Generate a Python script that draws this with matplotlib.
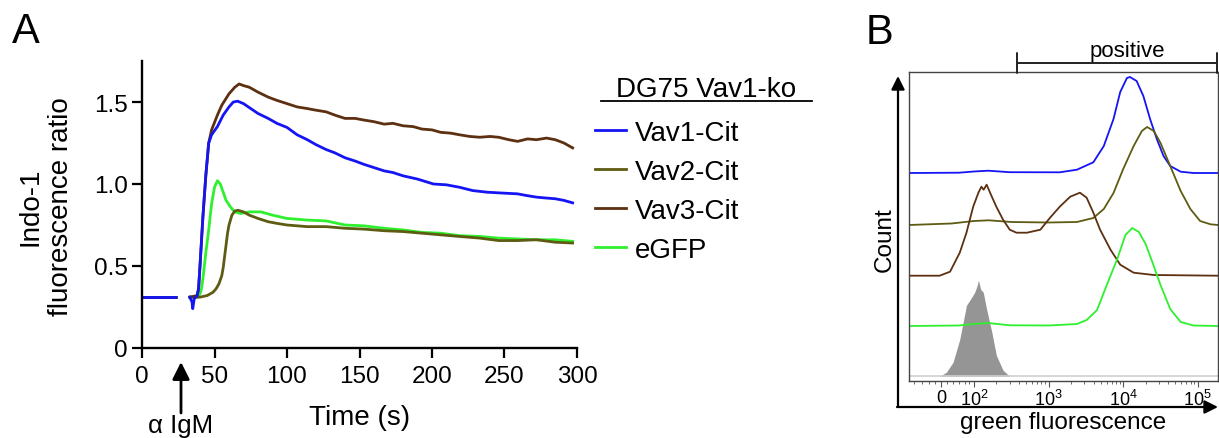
import numpy as np
import matplotlib
matplotlib.use("Agg")
import matplotlib.pyplot as plt
from matplotlib.ticker import FixedLocator, NullFormatter

plt.rcParams['font.family'] = ['Liberation Sans', 'DejaVu Sans']
plt.rcParams['mathtext.fontset'] = 'custom'
plt.rcParams['mathtext.rm'] = 'Liberation Sans'
plt.rcParams['mathtext.it'] = 'Liberation Sans'

# ---- panel A: Indo-1 ratio traces ----
t_pre = [0, 24]
v_pre = [0.31, 0.31]

t_vav1 = [33, 34.5, 35, 36, 38, 39, 40, 42, 44, 46, 48, 52, 56, 60, 63, 66, 70, 75, 80, 87,
          93, 100, 107, 114, 120, 127, 133, 140, 147, 153, 160, 167, 173, 180, 190, 201, 210, 219, 228, 238,
          248, 259, 265, 272, 278, 285, 291, 297]
v_vav1 = [0.31, 0.28, 0.24, 0.30, 0.32, 0.36, 0.50, 0.80, 1.05, 1.25, 1.30, 1.35, 1.42, 1.47, 1.50, 1.505, 1.49, 1.46, 1.43, 1.40,
          1.37, 1.345, 1.30, 1.27, 1.24, 1.21, 1.19, 1.16, 1.14, 1.12, 1.10, 1.08, 1.07, 1.05, 1.03, 1.00, 0.995, 0.98, 0.96, 0.95,
          0.945, 0.94, 0.93, 0.92, 0.915, 0.91, 0.90, 0.885]

t_vav2 = [33, 40, 45, 49, 51, 53, 55, 56, 57, 58, 59, 60, 62, 64, 66, 70, 74, 80, 87, 93,
          100, 114, 127, 140, 153, 167, 180, 193, 206, 219, 233, 246, 259, 272, 285, 297]
v_vav2 = [0.31, 0.31, 0.32, 0.34, 0.36, 0.39, 0.44, 0.49, 0.56, 0.63, 0.70, 0.75, 0.81, 0.835, 0.84, 0.83, 0.81, 0.79, 0.77, 0.76,
          0.75, 0.74, 0.74, 0.73, 0.725, 0.715, 0.71, 0.70, 0.69, 0.68, 0.67, 0.655, 0.655, 0.66, 0.645, 0.64]

t_vav3 = [33, 38, 39, 40, 42, 44, 46, 48, 52, 55, 60, 64, 67, 70, 74, 80, 87, 93, 100, 107,
          114, 120, 127, 133, 140, 147, 153, 160, 167, 173, 180, 187, 193, 200, 206, 213, 219, 226, 233, 240,
          246, 253, 259, 266, 272, 279, 285, 291, 297]
v_vav3 = [0.31, 0.32, 0.36, 0.50, 0.80, 1.05, 1.25, 1.33, 1.42, 1.48, 1.55, 1.59, 1.61, 1.60, 1.59, 1.56, 1.53, 1.51, 1.49, 1.47,
          1.46, 1.45, 1.44, 1.42, 1.40, 1.40, 1.39, 1.38, 1.365, 1.37, 1.355, 1.35, 1.335, 1.33, 1.315, 1.31, 1.30, 1.29, 1.285, 1.29,
          1.285, 1.27, 1.26, 1.275, 1.27, 1.28, 1.27, 1.25, 1.22]

t_egfp = [33, 38, 40, 41, 42, 44, 46, 48, 50, 52, 54, 56, 58, 61, 64, 68, 74, 82, 90, 100,
          114, 127, 140, 153, 167, 180, 193, 206, 219, 233, 246, 259, 272, 285, 297]
v_egfp = [0.31, 0.31, 0.33, 0.36, 0.42, 0.58, 0.72, 0.88, 0.98, 1.02, 1.00, 0.95, 0.90, 0.86, 0.83, 0.82, 0.83, 0.83, 0.81, 0.79,
          0.78, 0.775, 0.75, 0.745, 0.73, 0.72, 0.705, 0.70, 0.685, 0.68, 0.67, 0.665, 0.66, 0.66, 0.65]

labels_a = ["Vav1-Cit", "Vav2-Cit", "Vav3-Cit", "eGFP"]
colors = {"Vav1-Cit": "#1414f5", "Vav2-Cit": "#5e5b12", "Vav3-Cit": "#5c3010", "eGFP": "#2ef02e"}

# ---- panel B: flow histograms (x = log display position, y = height above lane) ----
u_vav1 = [1.13, 1.8, 2.0, 2.19, 2.48, 3.15, 3.38, 3.60, 3.74, 3.87, 3.96, 4.05, 4.09, 4.18, 4.27, 4.36, 4.45, 4.54, 4.63, 4.77, 4.94, 5.27]
h_vav1 = [0, 0.3, 1.5, 2.3, 0.8, 0.7, 3.3, 10.7, 27, 54, 81, 95, 96, 92, 77, 54, 34, 17, 7, 1.3, 0, 0]
u_vav2 = [1.13, 1.7, 2.0, 2.2, 2.5, 3.0, 3.38, 3.60, 3.74, 3.87, 4.00, 4.14, 4.25, 4.32, 4.41, 4.50, 4.63, 4.77, 4.90, 5.03, 5.17, 5.27]
h_vav2 = [0, 1.5, 4, 4.7, 3, 2.5, 3, 7, 16, 32, 56, 79, 94, 98, 94, 82, 59, 34, 16, 4, 0.7, 0]
u_vav3 = [1.13, 1.54, 1.68, 1.81, 1.90, 1.99, 2.06, 2.10, 2.13, 2.17, 2.24, 2.30, 2.39, 2.48, 2.57, 2.71, 2.89, 3.02, 3.15, 3.29,
          3.42, 3.51, 3.60, 3.69, 3.83, 3.96, 4.14, 4.41, 5.27]
h_vav3 = [0, 0, 4, 23, 43, 69, 83, 89, 86, 91, 79, 69, 56, 46, 43, 43, 46, 58, 69, 79,
          83, 78, 63, 46, 26, 11, 3, 0.7, 0]
u_egfp = [1.13, 1.8, 2.0, 2.19, 2.48, 3.0, 3.38, 3.51, 3.65, 3.78, 3.92, 4.03, 4.12, 4.21, 4.30, 4.39, 4.50, 4.63, 4.77, 4.94, 5.27]
h_egfp = [0, 0.5, 2, 3, 0.7, 0.5, 2, 6, 16, 41, 67, 91, 98, 94, 82, 64, 41, 17, 4, 0.5, 0]
u_neg = [1.54, 1.63, 1.72, 1.81, 1.90, 1.97, 2.01, 2.04, 2.06, 2.09, 2.125, 2.17, 2.24, 2.30, 2.39, 2.48]
h_neg = [0, 4, 14, 37, 71, 79, 84, 90, 96, 87, 84, 67, 44, 21, 6, 0]
lane_offset = {"Vav1-Cit": 208, "Vav2-Cit": 156, "Vav3-Cit": 105.3, "eGFP": 55, "neg": 4.7}
tick_pos_b = [1.56, 2, 3, 4, 5]
tick_lab_b = ["0", r"$\mathregular{10^2}$", r"$\mathregular{10^3}$", r"$\mathregular{10^4}$", r"$\mathregular{10^5}$"]
gate_positive = [2.58, 5.25]

W, H = 1219, 439
fig = plt.figure(figsize=(W / 100, H / 100), dpi=100)


def fx(px):
    return px / W


def fy(py):
    return 1 - py / H


# ---------------- panel A ----------------
axA = fig.add_axes([fx(142), fy(349), fx(577) - fx(142), fy(62) - fy(349)])
series = {"Vav1-Cit": (t_vav1, v_vav1), "Vav2-Cit": (t_vav2, v_vav2),
          "Vav3-Cit": (t_vav3, v_vav3), "eGFP": (t_egfp, v_egfp)}
handles = {}
for name in ["eGFP", "Vav2-Cit", "Vav3-Cit", "Vav1-Cit"]:
    t, v = series[name]
    axA.plot(t_pre, v_pre, color=colors[name], lw=2.0, solid_capstyle="butt")
    line, = axA.plot(t, v, color=colors[name], lw=2.0)
    handles[name] = line

axA.set_xlim(0, 300)
axA.set_ylim(0, 1.75)
axA.set_xticks([0, 50, 100, 150, 200, 250, 300])
axA.set_yticks([0, 0.5, 1.0, 1.5])
axA.set_yticklabels(["0", "0.5", "1.0", "1.5"])
for s in ["top", "right"]:
    axA.spines[s].set_visible(False)
for s in ["left", "bottom"]:
    axA.spines[s].set_linewidth(1.7)
axA.tick_params(axis="both", labelsize=17.5, length=7, width=1.6)
axA.tick_params(axis="x", pad=5)
axA.tick_params(axis="y", pad=3)
axA.set_xlabel("Time (s)", fontsize=20)
axA.xaxis.set_label_coords(0.501, -0.195)
fig.text(fx(46), fy(207), "Indo-1\nfluorescence ratio", rotation=90, fontsize=20,
         ha="center", va="center", multialignment="center")

# stimulus arrow
axA.annotate("", xy=(fx(181), fy(363)), xytext=(fx(181), fy(414)),
             xycoords="figure fraction", textcoords="figure fraction",
             arrowprops=dict(arrowstyle="-|>", color="black", lw=2, mutation_scale=26,
                             shrinkA=0, shrinkB=0), annotation_clip=False)
fig.text(fx(181), fy(433), "\u03b1 IgM", fontsize=18.5, ha="center", va="baseline")

# legend
fig.text(fx(706), fy(90), "DG75 Vav1-ko", fontsize=20, ha="center", va="center")
fig.add_artist(plt.Line2D([fx(601), fx(812)], [fy(102), fy(102)], color="black", lw=1.3))
axA.legend([handles[n] for n in labels_a], labels_a, loc="upper left",
           bbox_to_anchor=(fx(595), fy(121)), bbox_transform=fig.transFigure,
           frameon=False, fontsize=20, borderpad=0, borderaxespad=0,
           handlelength=1.12, handletextpad=0.32, labelspacing=0.47)

fig.text(fx(12), fy(12), "A", fontsize=30, ha="left", va="top")

# ---------------- panel B ----------------
axB = fig.add_axes([fx(909), fy(382), fx(1218) - fx(909), fy(72.5) - fy(382)])
axB.axhline(lane_offset["neg"], color="#cfcfcf", lw=1.2)
axB.fill_between(u_neg, lane_offset["neg"], np.array(h_neg) + lane_offset["neg"],
                 color="#959595", lw=0)
hist = {"Vav1-Cit": (u_vav1, h_vav1), "Vav2-Cit": (u_vav2, h_vav2),
        "Vav3-Cit": (u_vav3, h_vav3), "eGFP": (u_egfp, h_egfp)}
for name in ["Vav1-Cit", "Vav2-Cit", "Vav3-Cit", "eGFP"]:
    u, h = hist[name]
    axB.plot(u, np.array(h) + lane_offset[name], color=colors[name], lw=1.3)

axB.set_xlim(1.13, 5.27)
axB.set_ylim(0, 309.5)
axB.set_yticks([])
axB.set_xticks(tick_pos_b)
axB.set_xticklabels(tick_lab_b)
minor_b = [1.2, 1.3, 1.4, 1.48, 1.64, 1.72, 1.8, 1.88, 1.94]
minor_b += [d + np.log10(k) for d in [2, 3, 4] for k in range(2, 10)]
minor_b += [5 + np.log10(2)]
axB.xaxis.set_minor_locator(FixedLocator(minor_b))
axB.xaxis.set_minor_formatter(NullFormatter())
axB.tick_params(axis="x", which="major", length=4, width=0.8, color="#555555",
                labelsize=13, pad=2)
axB.tick_params(axis="x", which="minor", length=2.5, width=0.6, color="#555555")
for s in axB.spines.values():
    s.set_linewidth(1.0)
    s.set_color("#444444")

# count / fluorescence axis arrows
arrow_kw = dict(arrowstyle="-|>", color="black", lw=1.6, mutation_scale=20, shrinkA=0, shrinkB=0)
axB.annotate("", xy=(fx(898), fy(77)), xytext=(fx(898), fy(408)), xycoords="figure fraction",
             textcoords="figure fraction", arrowprops=arrow_kw, annotation_clip=False)
axB.annotate("", xy=(fx(1218), fy(408)), xytext=(fx(897), fy(408)), xycoords="figure fraction",
             textcoords="figure fraction", arrowprops=arrow_kw, annotation_clip=False)
fig.text(fx(1063), fy(429), "green fluorescence", fontsize=17.5, ha="center", va="baseline")
fig.text(fx(885), fy(240), "Count", fontsize=17.5, rotation=90, ha="center", va="center")

# positive gate bracket
gate_y = 1 + (72.5 - 64) / 309.5
axB.annotate("", xy=(gate_positive[1], gate_y), xytext=(gate_positive[0], gate_y),
             xycoords=("data", "axes fraction"), textcoords=("data", "axes fraction"),
             arrowprops=dict(arrowstyle="|-|, widthA=0.35, widthB=0.35", lw=1.4, color="#222222",
                             mutation_scale=20, shrinkA=0, shrinkB=0), annotation_clip=False)
fig.text(fx(1127), fy(57), "positive", fontsize=16, ha="center", va="baseline")

fig.text(fx(866), fy(13), "B", fontsize=30, ha="left", va="top")

fig.savefig("out.png", dpi=100)
